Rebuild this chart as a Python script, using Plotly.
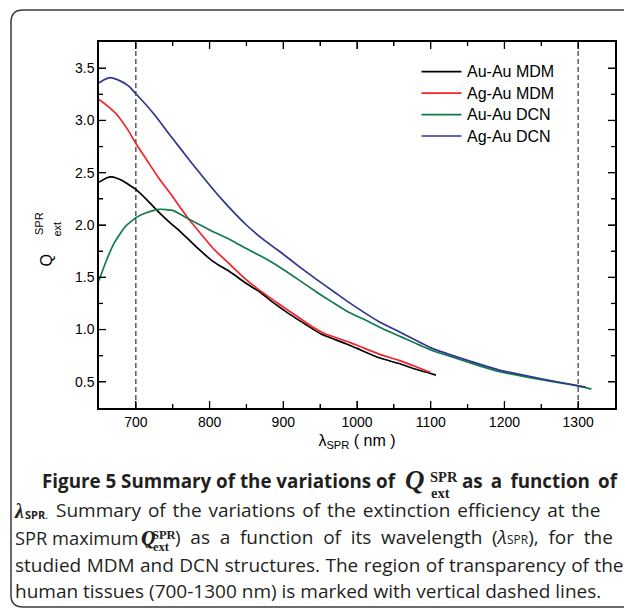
import plotly.graph_objects as go

# ---------------- data ----------------
au_au_mdm_x = [650, 660, 667, 680, 700, 715, 730, 745, 760, 782, 805, 828, 850, 870, 886, 909, 930, 952, 985, 1000, 1030, 1057, 1080, 1107]
au_au_mdm_y = [2.41, 2.45, 2.46, 2.43, 2.34, 2.24, 2.13, 2.03, 1.94, 1.79, 1.65, 1.55, 1.44, 1.35, 1.26, 1.145, 1.05, 0.955, 0.865, 0.82, 0.73, 0.675, 0.62, 0.565]

ag_au_mdm_x = [650, 663, 675, 690, 700, 715, 730, 750, 760, 773, 790, 805, 828, 850, 870, 895, 920, 940, 955, 985, 1000, 1030, 1057, 1080, 1100]
ag_au_mdm_y = [3.20, 3.13, 3.05, 2.90, 2.78, 2.62, 2.46, 2.27, 2.17, 2.045, 1.90, 1.775, 1.62, 1.475, 1.365, 1.24, 1.12, 1.025, 0.965, 0.89, 0.85, 0.765, 0.705, 0.645, 0.59]

au_au_dcn_x = [650, 660, 670, 685, 700, 715, 732, 750, 766, 775, 790, 805, 828, 850, 870, 890, 920, 945, 967, 990, 1012, 1030, 1060, 1102, 1150, 1192, 1250, 1300, 1318]
au_au_dcn_y = [1.47, 1.66, 1.82, 1.98, 2.07, 2.12, 2.15, 2.14, 2.08, 2.045, 1.99, 1.935, 1.86, 1.775, 1.70, 1.62, 1.48, 1.36, 1.26, 1.16, 1.09, 1.025, 0.93, 0.80, 0.69, 0.60, 0.52, 0.462, 0.43]

ag_au_dcn_x = [650, 657, 665, 675, 690, 700, 715, 728, 745, 760, 776, 798, 816, 850, 875, 900, 922, 945, 970, 990, 1030, 1060, 1102, 1150, 1192, 1250, 1300, 1310]
ag_au_dcn_y = [3.36, 3.39, 3.41, 3.39, 3.33, 3.255, 3.14, 3.03, 2.87, 2.735, 2.59, 2.40, 2.25, 2.0, 1.85, 1.72, 1.60, 1.48, 1.355, 1.255, 1.075, 0.97, 0.82, 0.705, 0.615, 0.53, 0.462, 0.452]

series_names = ["Au-Au MDM", "Ag-Au MDM", "Au-Au DCN", "Ag-Au DCN"]
series_colors = ["#000000", "#f5222a", "#0f7b4e", "#31358f"]
transparency_window = [700, 1300]

x_range = [650, 1350]
y_range = [0.25, 3.75]
x_major = [700, 800, 900, 1000, 1100, 1200, 1300]
x_minor = [750, 850, 950, 1050, 1150, 1250]
y_major = [0.5, 1.0, 1.5, 2.0, 2.5, 3.0, 3.5]
y_minor = [0.75, 1.25, 1.75, 2.25, 2.75, 3.25]

caption_lines = [
    "Summary of the variations of the extinction efficiency at the",
    "studied MDM and DCN structures. The region of transparency of the",
    "human tissues (700-1300 nm) is marked with vertical dashed lines.",
]

# ---------------- layout geometry ----------------
W, H = 624, 608
ML, MR, MT, MB = 99, 9, 42, 200
PW, PH = W - ML - MR, H - MT - MB


def px(x):
    return (x - ML) / PW


def py(y):
    return (H - MB - y) / PH


CHART_FONT = "Arial, Liberation Sans, sans-serif"
CAP_FONT = "Open Sans, sans-serif"
SERIF = "Liberation Serif, Times New Roman, serif"
CAP_COLOR = "#231f20"

fig = go.Figure()
all_x = [au_au_mdm_x, ag_au_mdm_x, au_au_dcn_x, ag_au_dcn_x]
all_y = [au_au_mdm_y, ag_au_mdm_y, au_au_dcn_y, ag_au_dcn_y]
for name, color, xs, ys in zip(series_names, series_colors, all_x, all_y):
    fig.add_trace(go.Scatter(x=xs, y=ys, mode="lines", name=name, showlegend=False,
                             line=dict(color=color, width=1.7, shape="spline", smoothing=0.5)))

for xv in transparency_window:
    fig.add_shape(type="line", xref="x", yref="paper", x0=xv, x1=xv, y0=0, y1=1,
                  line=dict(color="#333333", width=1.2, dash="5px,3px"), layer="below")

axis_common = dict(showline=True, linecolor="#000000", linewidth=1.5, mirror="ticks",
                   ticks="inside", ticklen=7, tickwidth=1.3, tickcolor="#000000",
                   showgrid=False, zeroline=False,
                   tickfont=dict(family=CHART_FONT, size=14, color="#000000"))

fig.update_xaxes(range=x_range, tickmode="array", tickvals=x_major, ticktext=[str(v) for v in x_major],
                 minor=dict(ticks="inside", ticklen=4, tickwidth=1.3, tickcolor="#000000",
                            tickvals=x_minor, showgrid=False),
                 title=dict(text="λ<sub>SPR</sub> ( nm )", font=dict(family=CHART_FONT, size=16, color="#000"), standoff=6),
                 **axis_common)
fig.update_yaxes(range=y_range, tickmode="array", tickvals=y_major, ticktext=["%.1f" % v for v in y_major],
                 minor=dict(ticks="inside", ticklen=4, tickwidth=1.3, tickcolor="#000000",
                            tickvals=y_minor, showgrid=False),
                 **axis_common)

annotations = []
shapes = []

# tick marks on all four sides (inside), positioned by the axis scales
MAJ, MIN = 7, 4
tick_line = dict(color="#000000", width=1.3)
for vals, ln in ((x_major, MAJ), (x_minor, MIN)):
    for v in vals:
        shapes.append(dict(type="line", xref="x", yref="paper", x0=v, x1=v, y0=0, y1=ln / PH, line=tick_line))
        shapes.append(dict(type="line", xref="x", yref="paper", x0=v, x1=v, y0=1 - ln / PH, y1=1, line=tick_line))
for vals, ln in ((y_major, MAJ), (y_minor, MIN)):
    for v in vals:
        shapes.append(dict(type="line", xref="paper", yref="y", x0=0, x1=ln / PW, y0=v, y1=v, line=tick_line))
        shapes.append(dict(type="line", xref="paper", yref="y", x0=1 - ln / PW, x1=1, y0=v, y1=v, line=tick_line))

# legend (drawn as in the reference: 40 px samples, tight rows)
legend_rows = [71.7, 93.2, 114.6, 136.0]
for name, color, yrow in zip(series_names, series_colors, legend_rows):
    shapes.append(dict(type="line", xref="paper", yref="paper", x0=px(421.5), x1=px(461.5),
                       y0=py(yrow), y1=py(yrow), line=dict(color=color, width=1.7)))
    annotations.append(dict(xref="paper", yref="paper", x=px(465), y=py(yrow), text=name,
                            showarrow=False, xanchor="left", yanchor="middle",
                            font=dict(family=CHART_FONT, size=16, color="#000")))

# y-axis title: Q with stacked SPR / ext
annotations.append(dict(xref="paper", yref="paper", x=px(45.5), y=py(261), text="Q", textangle=-90,
                        font=dict(family=CHART_FONT, size=16, color="#000"), showarrow=False,
                        xanchor="center", yanchor="middle"))
annotations.append(dict(xref="paper", yref="paper", x=px(39), y=py(224), text="SPR", textangle=-90,
                        font=dict(family=CHART_FONT, size=11, color="#000"), showarrow=False,
                        xanchor="center", yanchor="middle"))
annotations.append(dict(xref="paper", yref="paper", x=px(56), y=py(229.5), text="ext", textangle=-90,
                        font=dict(family=CHART_FONT, size=11, color="#000"), showarrow=False,
                        xanchor="center", yanchor="middle"))


# caption
def cap(text, x, y, size=19, anchor="left", family=CAP_FONT, ws=None):
    if ws:
        text = "<span style='word-spacing:%.2fpx'>%s</span>" % (ws, text)
    annotations.append(dict(xref="paper", yref="paper", x=px(x), y=py(y), text=text, showarrow=False,
                            xanchor=anchor, yanchor="middle",
                            font=dict(family=family, size=size, color=CAP_COLOR)))


base = [488.3, 516.7, 544.0, 571.7, 598.3]
off = 7
# line 1
cap("<b>Figure 5 Summary of the variations of</b>", 40, base[0] - off, size=18.8)
cap("<b><i>Q</i></b>", 403, base[0] - 8, size=27, family=SERIF)
cap("<b>SPR</b>", 428, base[0] - 11, size=14.5, family=SERIF)
cap("<b>ext</b>", 429, base[0] + 5, size=14.5, family=SERIF)
cap("<b>as a function of</b>", 621, base[0] - off, size=18.8, anchor="right", ws=3.3)
# line 2
cap("<b><i>λ</i></b>", 12, base[1] - 6, size=20, family=SERIF)
cap("<b>SPR</b>.", 22.5, base[1] - 2, size=11)
cap(caption_lines[0], 602, base[1] - off, anchor="right", ws=1.9)
# line 3
cap("SPR maximum (", 13, base[2] - off, size=18.3)
cap("<b><i>Q</i></b>", 138.5, base[2] - 6, size=20, family=SERIF)
cap("<b>SPR</b>", 150, base[2] - 9, size=12.5, family=SERIF)
cap("<b>ext</b>", 151, base[2] + 3, size=12.5, family=SERIF)
cap(") as a function of its wavelength (<i>λ</i><span style='font-size:12px'>SPR</span>), for the",
    615, base[2] - off, anchor="right", ws=4.8)
# line 4
cap(caption_lines[1], 13, base[3] - off, ws=0.5)
# line 5
cap(caption_lines[2], 13, base[4] - off)

# rounded frame (partly outside the window, as in the reference)
r = 12
x0, y0, x1, y1 = 11, 10, 660, 607
path = ("M %f,%f L %f,%f Q %f,%f %f,%f L %f,%f Q %f,%f %f,%f L %f,%f" % (
    px(x1), py(y0), px(x0 + r), py(y0), px(x0), py(y0), px(x0), py(y0 + r),
    px(x0), py(y1 - r), px(x0), py(y1), px(x0 + r), py(y1), px(x1), py(y1)))
shapes.append(dict(type="path", xref="paper", yref="paper", path=path,
                   line=dict(color="#3a3a3a", width=1.5)))

for s in shapes:
    fig.add_shape(**s)

fig.update_layout(
    width=W, height=H,
    margin=dict(l=ML, r=MR, t=MT, b=MB, autoexpand=False),
    paper_bgcolor="#ffffff", plot_bgcolor="#ffffff",
    showlegend=False,
    annotations=annotations,
)

fig.write_html("out.html")
